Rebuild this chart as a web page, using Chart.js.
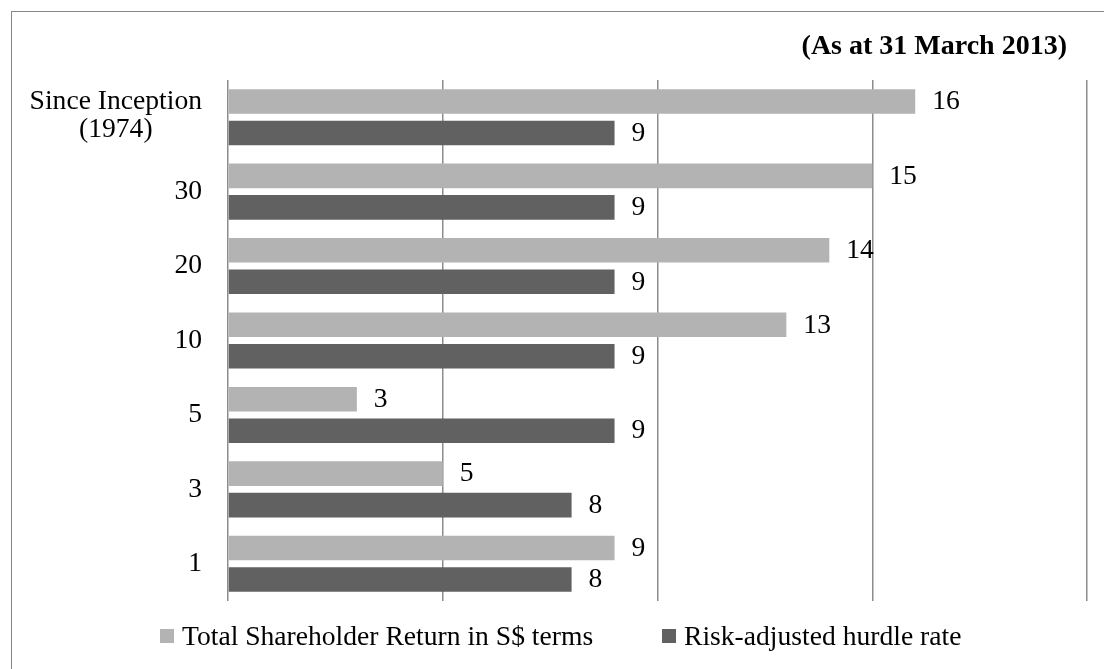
<!DOCTYPE html>
<html><head><meta charset="utf-8">
<script src="https://cdn.jsdelivr.net/npm/chart.js@4"></script>
<style>
html,body{margin:0;padding:0;background:#fff;}
#wrap{position:relative;width:1104px;height:669px;overflow:hidden;}
#legend{position:absolute;left:160px;top:621px;height:30px;display:flex;align-items:center;font-family:'Liberation Serif',serif;font-size:27.6px;line-height:30px;color:#000;}
.item{display:flex;align-items:center;white-space:nowrap;}
.item:first-child{width:502px;}
.sw{width:14px;height:14px;margin-right:8px;flex:none;}
</style></head><body>
<div id="wrap"><canvas id="c" width="1104" height="669"></canvas><div id="legend"></div></div>
<script>
const categories = [['Since Inception', '(1974)'], '30', '20', '10', '5', '3', '1'];
const seriesNames = ['Total Shareholder Return in S$ terms', 'Risk-adjusted hurdle rate'];
const tsrValues = [16, 15, 14, 13, 3, 5, 9];
const hurdleValues = [9, 9, 9, 9, 9, 8, 8];
const xTickValues = [0, 5, 10, 15, 20];
const chartTitle = '(As at 31 March 2013)';

const FONT = "'Liberation Serif', serif";
const colors = ['#b3b3b3', '#616161'];

const framePlugin = {
  id: 'frame',
  beforeDraw(chart) {
    const ctx = chart.ctx;
    ctx.save();
    ctx.fillStyle = '#ffffff';
    ctx.fillRect(0, 0, chart.width, chart.height);
    ctx.strokeStyle = '#868686';
    ctx.lineWidth = 1;
    ctx.strokeRect(11.5, 11.5, 1300, 1300);
    ctx.restore();
  }
};

const titleShiftPlugin = {
  id: 'titleShift',
  afterLayout(chart) {
    if (chart.titleBlock) chart.titleBlock.right -= 20;
  }
};

const yLabelPlugin = {
  id: 'yLabels',
  afterDraw(chart) {
    const s = chart.scales.y;
    const ctx = chart.ctx;
    ctx.save();
    ctx.font = '27.6px ' + FONT;
    ctx.fillStyle = '#000';
    ctx.textAlign = 'center';
    ctx.textBaseline = 'middle';
    const lh = 28;
    categories.forEach((c, i) => {
      const lines = Array.isArray(c) ? c : [c];
      const maxW = Math.max(...lines.map(l => ctx.measureText(l).width));
      const cx = s.right - 26 - maxW / 2;
      const y0 = s.getPixelForTick(i) - (lines.length - 1) * lh / 2 - (lines.length > 1 ? 1.5 : 0);
      lines.forEach((l, j) => ctx.fillText(l, cx, y0 + j * lh));
    });
    ctx.restore();
  }
};

const dataLabelPlugin = {
  id: 'dataLabels',
  afterDatasetsDraw(chart) {
    const ctx = chart.ctx;
    ctx.save();
    ctx.font = '27.6px ' + FONT;
    ctx.fillStyle = '#000';
    ctx.textAlign = 'left';
    ctx.textBaseline = 'middle';
    chart.data.datasets.forEach((ds, d) => {
      const meta = chart.getDatasetMeta(d);
      meta.data.forEach((bar, i) => {
        ctx.fillText(String(ds.data[i]), bar.x + 17, bar.y + 0.5);
      });
    });
    ctx.restore();
  }
};

const chart = new Chart(document.getElementById('c'), {
  type: 'bar',
  data: {
    labels: categories,
    datasets: [
      { label: seriesNames[0], data: tsrValues, backgroundColor: colors[0], borderWidth: 0,
        categoryPercentage: 0.846, barPercentage: 0.78 },
      { label: seriesNames[1], data: hurdleValues, backgroundColor: colors[1], borderWidth: 0,
        categoryPercentage: 0.846, barPercentage: 0.78 }
    ]
  },
  options: {
    indexAxis: 'y',
    responsive: false,
    devicePixelRatio: 1,
    animation: false,
    layout: { padding: { left: 0, right: 17, top: 0, bottom: 68 } },
    scales: {
      x: {
        min: xTickValues[0],
        max: xTickValues[xTickValues.length - 1],
        ticks: { display: false, stepSize: xTickValues[1] - xTickValues[0] },
        grid: { color: '#8c8c8c', lineWidth: 1.5, drawTicks: false },
        border: { display: false }
      },
      y: {
        ticks: { display: false },
        grid: { display: false, drawTicks: false },
        border: { display: false },
        afterFit(scale) { scale.width = 228; }
      }
    },
    plugins: {
      legend: { display: false },
      tooltip: { enabled: false },
      title: {
        display: true,
        text: chartTitle,
        align: 'end',
        color: '#000',
        font: { family: FONT, size: 28, weight: 'bold', lineHeight: 1.2 },
        padding: { top: 30, bottom: 16.4 }
      }
    }
  },
  plugins: [framePlugin, titleShiftPlugin, yLabelPlugin, dataLabelPlugin]
});

const legendEl = document.getElementById('legend');
chart.data.datasets.forEach(ds => {
  const item = document.createElement('div');
  item.className = 'item';
  const sw = document.createElement('span');
  sw.className = 'sw';
  sw.style.background = ds.backgroundColor;
  const tx = document.createElement('span');
  tx.textContent = ds.label;
  item.appendChild(sw);
  item.appendChild(tx);
  legendEl.appendChild(item);
});
</script>
</body></html>
